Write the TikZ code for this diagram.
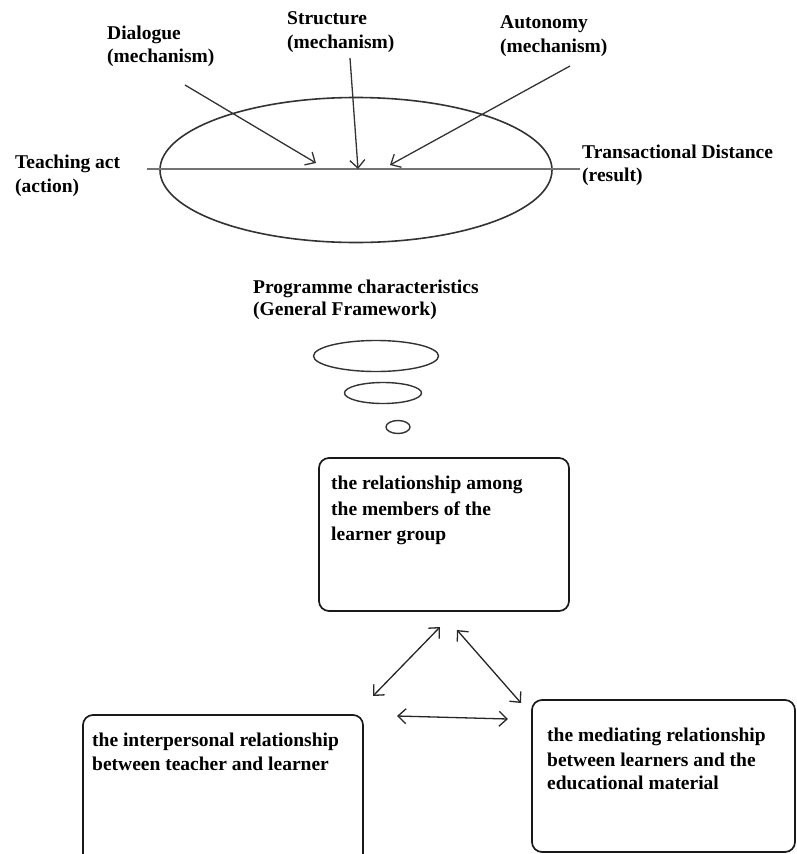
\documentclass[tikz,border=0pt]{standalone}
\usepackage{fontspec}
\setmainfont{Liberation Serif}
\usetikzlibrary{shapes.geometric,arrows.meta}
\tikzset{
  lbl/.style={anchor=base west, inner sep=0pt, font=\bfseries\fontsize{19.5}{24}\selectfont},
  oval/.style={ellipse, draw=black!80, line width=1.6pt, inner sep=0pt},
  rbox/.style={rectangle, draw=black!90, line width=1.7pt, rounded corners=10pt, inner sep=0pt},
  mech/.style={line width=1.3pt, draw=black!80, -{Straight Barb[length=8pt,width=15pt]}},
  rel/.style={line width=1.3pt, draw=black!85, {Straight Barb[length=8pt,width=15pt]}-{Straight Barb[length=8pt,width=15pt]}},
  axis/.style={line width=2.2pt, draw=black!55}
}
\begin{document}
\begin{tikzpicture}[x=1pt,y=-1pt]
\useasboundingbox (0,0) rectangle (797,854);
\fill[white] (0,0) rectangle (797,854);

% top labels
\node[lbl] (dia1) at (107,39) {Dialogue};
\node[lbl] (dia2) at (107,62) {(mechanism)};
\node[lbl] (str1) at (287,24) {Structure};
\node[lbl] (str2) at (287,48) {(mechanism)};
\node[lbl] (aut1) at (500,28) {Autonomy};
\node[lbl] (aut2) at (500,52) {(mechanism)};
\node[lbl] (tea1) at (15,168) {Teaching act};
\node[lbl] (tea2) at (15,192) {(action)};
\node[lbl] (tra1) at (582,158) {Transactional Distance};
\node[lbl] (tra2) at (582,181) {(result)};

% big ellipse and axis
\node[oval, minimum width=392pt, minimum height=145pt] (big) at (356,170) {};
\coordinate (axL) at (147,169);
\coordinate (axR) at (580,169);
\draw[axis] (axL) -- (axR);

% mechanism arrows
\coordinate (dS) at (185,85);
\coordinate (dE) at (316,163);
\coordinate (sS) at (350,58);
\coordinate (sE) at (358,169);
\coordinate (aS) at (570,66);
\coordinate (aE) at (390,165);
\draw[mech] (dS) -- (dE);
\draw[mech] (sS) -- (sE);
\draw[mech] (aS) -- (aE);

% programme characteristics
\node[lbl] (pro1) at (253,293) {Programme characteristics};
\node[lbl] (pro2) at (253,315) {(General Framework)};
\node[oval, line width=1.4pt, minimum width=125pt, minimum height=31pt] (e1) at (376,356) {};
\node[oval, line width=1.4pt, minimum width=77pt, minimum height=21pt] (e2) at (383,393) {};
\node[oval, line width=1.4pt, minimum width=24pt, minimum height=13pt] (e3) at (398,427) {};

% boxes
\node[rbox, minimum width=250pt, minimum height=153pt] (top) at (444,534.5) {};
\node[lbl] (t1) at (331,489) {the relationship among};
\node[lbl] (t2) at (331,515) {the members of the};
\node[lbl] (t3) at (331,540) {learner group};

\node[rbox, minimum width=280pt, minimum height=151pt] (left) at (223,790.5) {};
\node[lbl] (l1) at (92,746) {the interpersonal relationship};
\node[lbl] (l2) at (92,770) {between teacher and learner};

\node[rbox, minimum width=263pt, minimum height=152pt] (right) at (663.5,776) {};
\node[lbl] (r1) at (547,741) {the mediating relationship};
\node[lbl] (r2) at (547,766) {between learners and the};
\node[lbl] (r3) at (547,789) {educational material};

% relationship arrows
\coordinate (a1) at (440,627);
\coordinate (a2) at (373,696);
\coordinate (b1) at (457,630);
\coordinate (b2) at (521,703);
\coordinate (c1) at (397,716);
\coordinate (c2) at (508,719);
\draw[rel] (a2) -- (a1);
\draw[rel] (b1) -- (b2);
\draw[rel] (c1) -- (c2);
\end{tikzpicture}
\end{document}
